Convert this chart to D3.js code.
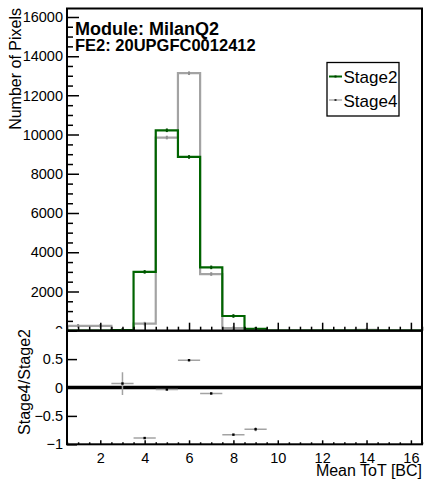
<!DOCTYPE html>
<html><head><meta charset="utf-8">
<script src="https://cdn.jsdelivr.net/npm/d3@7"></script>
<style>html,body{margin:0;padding:0;background:#fff;} svg{display:block;font-family:"Liberation Sans",Arial,Helvetica,sans-serif;}</style>
</head><body><div id="chart"></div>
<script>
// ---- data ----
const binCenters = [1,2,3,4,5,6,7,8,9,10,11,12,13,14,15,16];
const stage2 = [0,0,30,3000,10220,8860,3230,750,100,0,0,0,0,0,0,0];
const stage4 = [250,250,30,360,9850,13130,2890,128,27,0,0,0,0,40,0,0];
const ratioX = [3,4,5,6,7,8,9];
const ratioY = [0.07,-0.89,-0.035,0.48,-0.105,-0.83,-0.735];
const ratioErr = [0.2,0.01,0.01,0.01,0.012,0.01,0.035];
const yTopTicks = [0,2000,4000,6000,8000,10000,12000,14000,16000];
const yRatioTicks = [-1,-0.5,0,0.5,1];
const xTicks = [2,4,6,8,10,12,14,16];
const seriesNames = ["Stage2","Stage4"];
const titleLine1 = "Module: MilanQ2";
const titleLine2 = "FE2: 20UPGFC0012412";

const W=426,H=480;
const green="#006400", gray="#a3a3a3";
const svg=d3.select("#chart").append("svg").attr("width",W).attr("height",H);
svg.append("rect").attr("width",W).attr("height",H).attr("fill","#fff");

const L=67,R=422,T=8.5,MID=330.7,B=444.3;
const x=d3.scaleLinear([0.5,16.5],[L,R]);
const y=d3.scaleLinear([0,16430],[MID,T]);
const yr=d3.scaleLinear([-1,1],[B,MID]);

const defs=svg.append("defs");
defs.append("clipPath").attr("id","ctop").append("rect").attr("x",L).attr("y",T).attr("width",R-L).attr("height",MID-T);
defs.append("clipPath").attr("id","clab").append("rect").attr("x",0).attr("y",0).attr("width",W).attr("height",328.8);
defs.append("clipPath").attr("id","cbot").append("rect").attr("x",L).attr("y",MID).attr("width",R-L).attr("height",B-MID);

const fmtNum=d=>d3.format("d")(d);
const fmtR=d=>(d<0?"\u2212":"")+Math.abs(d);

// ---- histograms ----
function stepPts(vals){
  const pts=[];
  vals.forEach((v,i)=>{const c=binCenters[i];pts.push([x(c-0.5),y(v)]);pts.push([x(c+0.5),y(v)]);});
  return pts;
}
const gh=svg.append("g").attr("clip-path","url(#ctop)");
const line=d3.line();
gh.append("path").attr("d",line(stepPts(stage4))).attr("fill","none").attr("stroke",gray).attr("stroke-width",2.2);
gh.append("path").attr("d",line(stepPts(stage2))).attr("fill","none").attr("stroke",green).attr("stroke-width",2.2);
// bin markers (small error ticks at bin centres)
gh.selectAll(".m4").data(binCenters.filter((c,i)=>stage4[i]>0)).enter().append("rect")
  .attr("x",c=>x(c)-1).attr("y",c=>y(stage4[binCenters.indexOf(c)])-1.8).attr("width",2).attr("height",3.6).attr("fill","#909090");
gh.selectAll(".m2").data(binCenters.filter((c,i)=>stage2[i]>0)).enter().append("rect")
  .attr("x",c=>x(c)-1).attr("y",c=>y(stage2[binCenters.indexOf(c)])-1.8).attr("width",2).attr("height",3.6).attr("fill","#004f00");

// ---- top axes ----
const minorY=d3.range(0,16431,500).filter(v=>v%2000!==0);
svg.append("g").attr("transform",`translate(${L},0)`).call(d3.axisLeft(y).tickValues(minorY).tickSize(-6).tickFormat(""))
  .call(g=>{g.select(".domain").remove();g.selectAll("line").attr("stroke","#000").attr("stroke-width",1.5);});
const wrapT=svg.append("g").attr("clip-path","url(#clab)");
const ayT=wrapT.append("g").attr("transform",`translate(${L},0)`).call(d3.axisLeft(y).tickValues(yTopTicks).tickSize(-12).tickPadding(4).tickFormat(fmtNum));
ayT.select(".domain").remove();
ayT.selectAll("line").attr("stroke","#000").attr("stroke-width",1.5);
ayT.selectAll("text").attr("font-size",14.5).attr("fill","#000").attr("font-family","Liberation Sans, Arial, sans-serif");
// x ticks on top panel bottom (inward, no labels)
const minorX=d3.range(0.5,16.51,0.5).filter(v=>v%2!==0);
svg.append("g").attr("transform",`translate(0,${MID})`).call(d3.axisBottom(x).tickValues(minorX).tickSize(-4).tickFormat(""))
  .call(g=>{g.select(".domain").remove();g.selectAll("line").attr("stroke","#000").attr("stroke-width",1.5);});
svg.append("g").attr("transform",`translate(0,${MID})`).call(d3.axisBottom(x).tickValues(xTicks).tickSize(-8).tickFormat(""))
  .call(g=>{g.select(".domain").remove();g.selectAll("line").attr("stroke","#000").attr("stroke-width",1.5);});

// ---- ratio panel ----
const gb=svg.append("g").attr("clip-path","url(#cbot)");
gb.append("line").attr("x1",L).attr("x2",R).attr("y1",yr(0)).attr("y2",yr(0)).attr("stroke","#000").attr("stroke-width",3.6);
ratioX.forEach((c,i)=>{
  gb.append("line").attr("x1",x(c-0.5)).attr("x2",x(c+0.5)).attr("y1",yr(ratioY[i])).attr("y2",yr(ratioY[i])).attr("stroke",gray).attr("stroke-width",1.5);
  gb.append("line").attr("x1",x(c)).attr("x2",x(c)).attr("y1",yr(ratioY[i]-ratioErr[i])).attr("y2",yr(ratioY[i]+ratioErr[i])).attr("stroke",gray).attr("stroke-width",1.5);
  gb.append("rect").attr("x",x(c)-1.2).attr("y",yr(ratioY[i])-1.2).attr("width",2.4).attr("height",2.4).attr("fill","#000");
});
const ayR=svg.append("g").attr("transform",`translate(${L},0)`).call(d3.axisLeft(yr).tickValues(yRatioTicks).tickSize(-10).tickPadding(4).tickFormat(d=>d===1?"":fmtR(d)));
ayR.select(".domain").remove();
ayR.selectAll("line").attr("stroke","#000").attr("stroke-width",1.5);
ayR.selectAll("text").attr("font-size",14.5).attr("fill","#000").attr("font-family","Liberation Sans, Arial, sans-serif");
svg.append("g").attr("transform",`translate(0,${B})`).call(d3.axisBottom(x).tickValues(minorX).tickSize(-2).tickFormat(""))
  .call(g=>{g.select(".domain").remove();g.selectAll("line").attr("stroke","#000").attr("stroke-width",1.5);});
const axR=svg.append("g").attr("transform",`translate(0,${B})`).call(d3.axisBottom(x).tickValues(xTicks).tickSize(-4).tickPadding(8.5).tickFormat(d3.format("d")));
axR.select(".domain").remove();
axR.selectAll("line").attr("stroke","#000").attr("stroke-width",1.5);
axR.selectAll("text").attr("font-size",14.5).attr("fill","#000").attr("font-family","Liberation Sans, Arial, sans-serif");

// ---- frames ----
svg.append("rect").attr("x",L).attr("y",T).attr("width",R-L).attr("height",MID-T).attr("fill","none").attr("stroke","#000").attr("stroke-width",2);
svg.append("rect").attr("x",L).attr("y",MID).attr("width",R-L).attr("height",B-MID).attr("fill","none").attr("stroke","#000").attr("stroke-width",2);

// ---- titles ----
svg.append("text").attr("x",75).attr("y",35).attr("font-size",18).attr("font-weight","bold").text(titleLine1);
svg.append("text").attr("x",75).attr("y",51).attr("font-size",16.5).attr("font-weight","bold").text(titleLine2);
svg.append("text").attr("transform","translate(21,8) rotate(-90)").attr("text-anchor","end").attr("font-size",16).text("Number of Pixels");
svg.append("text").attr("transform","translate(29.5,382) rotate(-90)").attr("text-anchor","middle").attr("font-size",16).text("Stage4/Stage2");
svg.append("text").attr("x",R).attr("y",476).attr("text-anchor","end").attr("font-size",16).text("Mean ToT [BC]");

// ---- legend ----
const lg=svg.append("g");
lg.append("rect").attr("x",327).attr("y",62.5).attr("width",72).attr("height",53.5).attr("fill","#fff").attr("stroke","#000").attr("stroke-width",1.3);
const lcol=[green,gray], lmk=["#003800","#333"];
seriesNames.forEach((n,i)=>{
  const yy=77+i*23.5;
  lg.append("line").attr("x1",329).attr("x2",342).attr("y1",yy-0.5).attr("y2",yy-0.5).attr("stroke",lcol[i]).attr("stroke-width",i===0?2:1.3);
  lg.append("rect").attr("x",334.5).attr("y",yy-1.5).attr("width",2).attr("height",2).attr("fill",lmk[i]);
  lg.append("text").attr("x",343.5).attr("y",yy+6).attr("font-size",17).text(n);
});
</script></body></html>
